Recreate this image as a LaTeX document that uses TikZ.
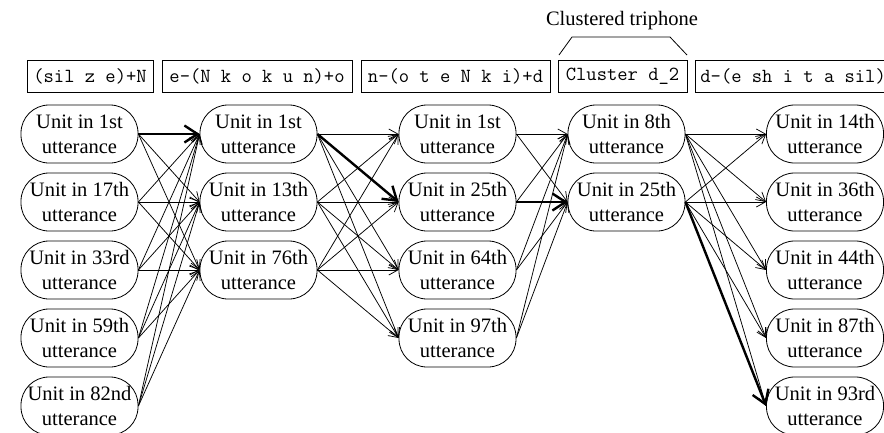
\documentclass[tikz,border=0pt]{standalone}
\usepackage{fontspec}
\setmainfont{Liberation Serif}
\usetikzlibrary{arrows.meta}
\begin{document}
\begin{tikzpicture}[x=1pt,y=-1pt,
  unit/.style={draw, line width=0.8pt, rounded corners=28pt, minimum width=117pt, minimum height=58pt,
    inner sep=0pt, align=center, font=\fontsize{20.5}{25}\selectfont},
  hdr/.style={draw, line width=0.8pt, minimum height=32pt, inner sep=0pt,
    font=\ttfamily\fontsize{20}{22}\selectfont},
  arr/.style={line width=0.75pt, -{Straight Barb[length=9pt,width=10pt]}},
  thickarr/.style={line width=2.4pt, -{Straight Barb[length=13pt,width=17pt]}}]
\useasboundingbox (0,0) rectangle (884,432);
\clip (0,0) rectangle (884,432);
% headers
\node[hdr, minimum width=126pt] (h1) at (90,76) {(sil z e)+N};
\node[hdr, minimum width=190pt] (h2) at (257,76) {e-(N k o k u n)+o};
\node[hdr, minimum width=189pt] (h3) at (455.5,76) {n-(o t e N k i)+d};
\node[hdr, minimum width=129pt] (h4) at (622.5,76) {Cluster d\_2};
\node[hdr, anchor=west, inner xsep=5pt] (h5) at (695,76) {d-(e sh i t a sil)};
\node[font=\fontsize{20.5}{25}\selectfont] (ct) at (622,21) {Clustered triphone};
\draw[line width=0.8pt] (559,55) -- (572,37) -- (670,37) -- (687,55);
% column 1
\node[unit] (a1) at (79.5,134) {Unit in 1st\\utterance};
\node[unit] (a2) at (79.5,202) {Unit in 17th\\utterance};
\node[unit] (a3) at (79.5,270) {Unit in 33rd\\utterance};
\node[unit] (a4) at (79.5,338) {Unit in 59th\\utterance};
\node[unit] (a5) at (79.5,406) {Unit in 82nd\\utterance};
% column 2
\node[unit] (b1) at (258.5,134) {Unit in 1st\\utterance};
\node[unit] (b2) at (258.5,202) {Unit in 13th\\utterance};
\node[unit] (b3) at (258.5,270) {Unit in 76th\\utterance};
% column 3
\node[unit] (c1) at (457.5,134) {Unit in 1st\\utterance};
\node[unit] (c2) at (457.5,202) {Unit in 25th\\utterance};
\node[unit] (c3) at (457.5,270) {Unit in 64th\\utterance};
\node[unit] (c4) at (457.5,338) {Unit in 97th\\utterance};
% column 4
\node[unit] (d1) at (626.5,134) {Unit in 8th\\utterance};
\node[unit] (d2) at (626.5,202) {Unit in 25th\\utterance};
% column 5
\node[unit] (e1) at (825,134) {Unit in 14th\\utterance};
\node[unit] (e2) at (825,202) {Unit in 36th\\utterance};
\node[unit] (e3) at (825,270) {Unit in 44th\\utterance};
\node[unit] (e4) at (825,338) {Unit in 87th\\utterance};
\node[unit] (e5) at (825,406) {Unit in 93rd\\utterance};
% connectors
\foreach \i in {1,...,5} \foreach \j in {1,2,3} \draw[arr] (a\i.east) -- (b\j.west);
\foreach \i in {1,2,3} \foreach \j in {1,...,4} \draw[arr] (b\i.east) -- (c\j.west);
\foreach \i in {1,...,4} \foreach \j in {1,2} \draw[arr] (c\i.east) -- (d\j.west);
\foreach \i in {1,2} \foreach \j in {1,...,5} \draw[arr] (d\i.east) -- (e\j.west);
\draw[thickarr] (a1.east) -- (b1.west);
\draw[thickarr] (b1.east) -- (c2.west);
\draw[thickarr] (c2.east) -- (d2.west);
\draw[thickarr] (d2.east) -- (e5.west);
\end{tikzpicture}
\end{document}
